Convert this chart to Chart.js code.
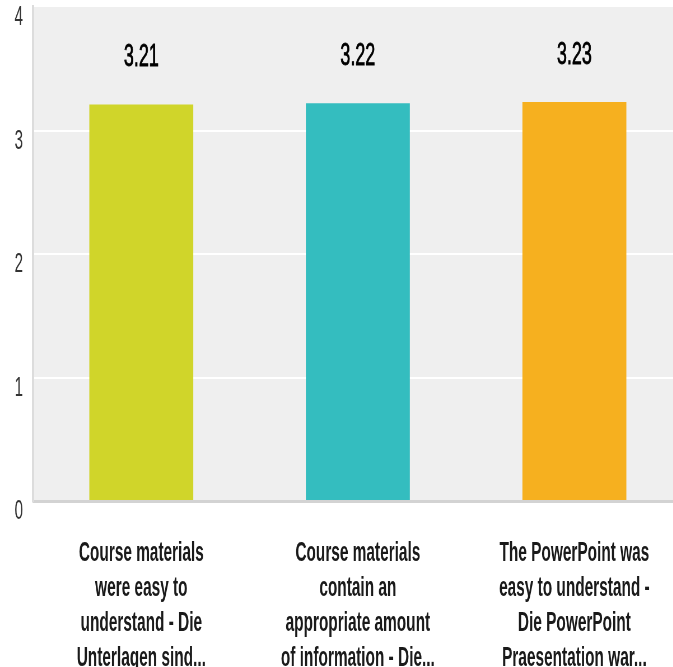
<!DOCTYPE html>
<html>
<head>
<meta charset="utf-8">
<script src="https://cdn.jsdelivr.net/npm/chart.js@4"></script>
<style>
  html, body { margin: 0; padding: 0; background: #fff; overflow: hidden; }
  #wrap { width: 673px; height: 667px; overflow: hidden; position: relative; }
  /* the reference text is strongly condensed, so the canvas is squeezed horizontally */
  #chart { transform: scaleX(0.56); transform-origin: 0 0; display: block; }
</style>
</head>
<body>
<div id="wrap"><canvas id="chart" width="1222" height="667"></canvas></div>
<script>
const categories = [
  ['Course materials', 'were easy to', 'understand - Die', 'Unterlagen sind...'],
  ['Course materials', 'contain an', 'appropriate amount', 'of information - Die...'],
  ['The PowerPoint was', 'easy to understand -', 'Die PowerPoint', 'Praesentation war...']
];
const values = [3.21, 3.22, 3.23];
const barColors = ['#d0d52a', '#34bdbf', '#f6b01f'];
const yTicks = [0, 1, 2, 3, 4];

const FONT = '"Liberation Sans", Arial, sans-serif';

// grey plot background
const plotBackground = {
  id: 'plotBackground',
  beforeDraw(chart) {
    const { ctx, chartArea } = chart;
    ctx.save();
    ctx.fillStyle = '#efefef';
    ctx.fillRect(chartArea.left, chartArea.top, chartArea.right - chartArea.left, chartArea.bottom - chartArea.top);
    ctx.restore();
  }
};

// value labels above the bars
const valueLabels = {
  id: 'valueLabels',
  afterDatasetsDraw(chart) {
    const { ctx } = chart;
    const meta = chart.getDatasetMeta(0);
    ctx.save();
    ctx.font = '32px ' + FONT;
    ctx.fillStyle = '#000';
    ctx.strokeStyle = '#000';
    ctx.lineWidth = 0.8;
    ctx.textAlign = 'center';
    ctx.textBaseline = 'middle';
    meta.data.forEach((bar, i) => {
      const txt = values[i].toFixed(2);
      ctx.fillText(txt, bar.x, bar.y - 47);
      ctx.strokeText(txt, bar.x, bar.y - 47);
    });
    ctx.restore();
  }
};

const ctx = document.getElementById('chart').getContext('2d');
new Chart(ctx, {
  type: 'bar',
  data: {
    labels: categories,
    datasets: [{
      data: values,
      backgroundColor: barColors,
      barPercentage: 0.96,
      categoryPercentage: 0.5
    }]
  },
  options: {
    responsive: false,
    animation: false,
    devicePixelRatio: 1,
    layout: { padding: { top: 7, right: 3, left: 0, bottom: 0 } },
    plugins: {
      legend: { display: false },
      tooltip: { enabled: false }
    },
    scales: {
      x: {
        grid: { display: false, drawTicks: false },
        border: { display: true, color: '#d3d3d3', width: 3 },
        ticks: {
          autoSkip: false,
          maxRotation: 0,
          minRotation: 0,
          padding: 35,
          color: '#1a1a1a',
          font: { family: FONT, size: 27.5, weight: 'bold', lineHeight: 1.27 }
        },
        afterFit(scale) {
          scale.height = 166;
          scale.paddingLeft = 0;
          scale.paddingRight = 0;
        }
      },
      y: {
        min: 0,
        max: 4,
        afterBuildTicks(scale) { scale.ticks = yTicks.map(v => ({ value: v })); },
        grid: {
          drawTicks: false,
          lineWidth: 2,
          color: c => (c.tick && (c.tick.value === 0 || c.tick.value === 4)) ? 'rgba(0,0,0,0)' : '#ffffff'
        },
        border: { display: true, color: '#dcdcdc', width: 4 },
        ticks: {
          padding: 18,
          labelOffset: 11,
          color: '#333',
          font: { family: FONT, size: 27 }
        },
        afterFit(scale) {
          scale.width = 59;
          scale.paddingTop = 0;
          scale.paddingBottom = 0;
        }
      }
    }
  },
  plugins: [plotBackground, valueLabels]
});
</script>
</body>
</html>
